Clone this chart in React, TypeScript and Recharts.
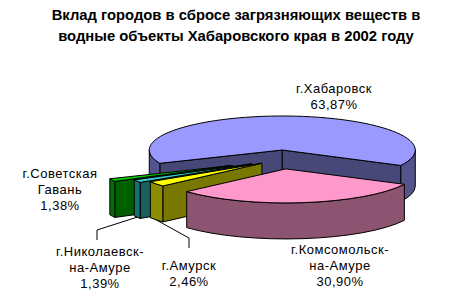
import { PieChart, Pie } from "recharts"

const cities = ["г.Хабаровск", "г.Комсомольск-на-Амуре", "г.Амурск", "г.Николаевск-на-Амуре", "г.Советская Гавань"]
const shares = [63.87, 30.9, 2.46, 1.39, 1.38]
const labelLines = [["г.Хабаровск"], ["г.Комсомольск-", "на-Амуре"], ["г.Амурск"], ["г.Николаевск-", "на-Амуре"], ["г.Советская", "Гавань"]]
const titleLines = ["Вклад городов в сбросе загрязняющих веществ в", "водные объекты Хабаровского края в 2002 году"]

const colors = ["#9999ff", "#ff99cc", "#ffff00", "#33cccc", "#00cc00"]
// Excel pulled the small slices out further than the two big ones
const explode = [37, 37, 24, 34, 54]
// back to front
const drawOrder = [0, 4, 3, 2, 1]
const labelAt = [[334, 93], [340, 254], [189, 270], [100, 256], [60, 178]]
const leaders: Record<number, number[][]> = { 2: [[189, 248], [189, 238]], 3: [[97, 240], [97, 230]] }

const K = 0.256
const DEPTH = 36
const FONT = '"Liberation Sans", Arial, sans-serif'

const data = cities.map((name, i) => ({ name, value: shares[i] }))

const rad = (a: number) => (a * Math.PI) / 180

function shade(hex: string, f: number) {
	const n = parseInt(hex.slice(1), 16)
	const c = [(n >> 16) & 255, (n >> 8) & 255, n & 255].map((v) => Math.round(v * f))
	return `rgb(${c.join(",")})`
}

function geom(p: any) {
	const { cx, cy, startAngle, endAngle, outerRadius: r, index } = p
	const hi = Math.max(startAngle, endAngle)
	const lo = Math.min(startAngle, endAngle)
	const mid = (hi + lo) / 2
	const e = explode[index]
	const vx = cx + e * Math.cos(rad(mid))
	const vy = cy - e * K * Math.sin(rad(mid))
	const at = (a: number, dy = 0) => [vx + r * Math.cos(rad(a)), vy - r * K * Math.sin(rad(a)) + dy]
	return { hi, lo, mid, vx, vy, r, at }
}

const f = (q: number[]) => `${q[0].toFixed(2)} ${q[1].toFixed(2)}`

function Slice3D(p: any) {
	const { hi, lo, vx, vy, r, at } = geom(p)
	const color = colors[p.index]
	const ry = r * K
	const line = { stroke: "#000", strokeWidth: 1, strokeLinejoin: "round" as const }
	const faces: any[] = []

	// cut faces, only those turned toward the viewer
	;[[hi, hi + 90], [lo, lo - 90]].forEach(([a, n], j) => {
		if (Math.sin(rad(n)) >= 0) return
		const d = `M${f([vx, vy])}L${f(at(a))}L${f(at(a, DEPTH))}L${f([vx, vy + DEPTH])}Z`
		faces.push(<path key={"c" + j} d={d} fill={shade(color, 0.47)} {...line} />)
	})

	// outer rim on the front half
	for (let n = -2; n <= 2; n++) {
		const b0 = Math.max(lo, -180 + 360 * n)
		const b1 = Math.min(hi, 360 * n)
		if (b1 <= b0) continue
		const d = `M${f(at(b1))}A${r} ${ry} 0 0 1 ${f(at(b0))}L${f(at(b0, DEPTH))}A${r} ${ry} 0 0 0 ${f(at(b1, DEPTH))}Z`
		faces.push(<path key={"r" + n} d={d} fill={shade(color, 0.55)} {...line} />)
	}

	const large = hi - lo > 180 ? 1 : 0
	const top = `M${f([vx, vy])}L${f(at(hi))}A${r} ${ry} 0 ${large} 1 ${f(at(lo))}Z`
	faces.push(<path key="t" d={top} fill={color} {...line} />)
	return <g>{faces}</g>
}

function SliceLabel(p: any) {
	const i = p.index
	const [x, y] = labelAt[i]
	const rows = [...labelLines[i], p.value.toFixed(2).replace(".", ",") + "%"]
	let lead = null
	if (leaders[i]) {
		const { mid, at } = geom(p)
		const pts = [...leaders[i], at(mid, DEPTH)]
		lead = <polyline points={pts.map(f).join(" ")} fill="none" stroke="#000" strokeWidth={1} />
	}
	return (
		<g>
			{lead}
			<text x={x} y={y} textAnchor="middle" fontFamily={FONT} fontSize={13} letterSpacing={0.5} fill="#000">
				{rows.map((t, k) => (
					<tspan key={k} x={x} dy={k === 0 ? 0 : 16}>
						{t}
					</tspan>
				))}
			</text>
		</g>
	)
}

export default function App() {
	return (
		<div style={{ position: "absolute", left: 0, top: 0, width: 470, height: 306, background: "#fff" }}>
			<PieChart width={470} height={306} margin={{ top: 0, right: 0, bottom: 0, left: 0 }}>
				<text x={236} y={20} textAnchor="middle" fontFamily={FONT} fontSize={14.8} fontWeight="bold" fill="#000">
					{titleLines[0]}
				</text>
				<text x={236} y={41} textAnchor="middle" fontFamily={FONT} fontSize={14.8} fontWeight="bold" fill="#000">
					{titleLines[1]}
				</text>
				{drawOrder.map((k) => (
					<Pie
						key={"s" + k}
						data={data}
						dataKey="value"
						nameKey="name"
						cx={281}
						cy={159.5}
						outerRadius={133}
						startAngle={203}
						endAngle={-157}
						fill="none"
						stroke="none"
						labelLine={false}
						label={(p: any) => (p.index === k ? <Slice3D {...p} /> : null)}
						isAnimationActive={false}
					/>
				))}
				<Pie
					data={data}
					dataKey="value"
					nameKey="name"
					cx={281}
					cy={159.5}
					outerRadius={133}
					startAngle={203}
					endAngle={-157}
					fill="none"
					stroke="none"
					labelLine={false}
					label={(p: any) => <SliceLabel {...p} />}
					isAnimationActive={false}
				/>
			</PieChart>
		</div>
	)
}
